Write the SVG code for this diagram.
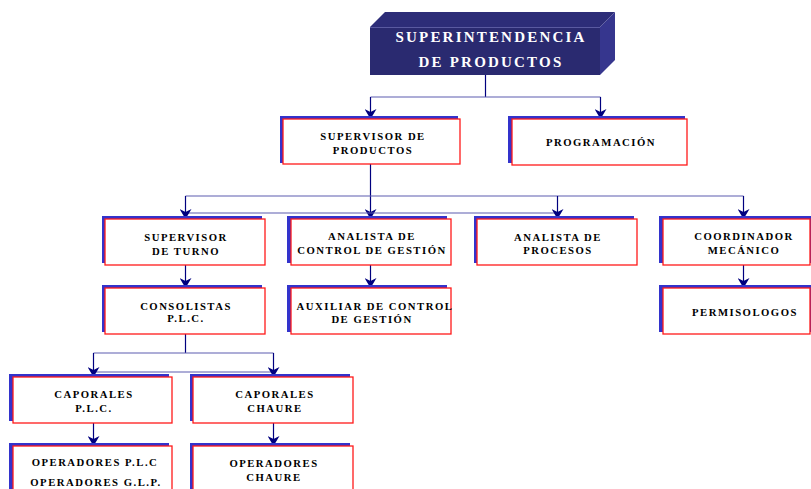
<svg xmlns="http://www.w3.org/2000/svg" width="811" height="489" viewBox="0 0 811 489">
<style>
.sh{fill:#3333cc}
.bx{fill:#fff;stroke:#ff1a1a;stroke-width:1.3}
.t{font-family:"Liberation Serif","Times New Roman",serif;font-weight:bold;font-size:10.7px;letter-spacing:1.5px;fill:#000;text-anchor:middle}
.tt{font-family:"Liberation Serif","Times New Roman",serif;font-weight:bold;font-size:15px;letter-spacing:2.2px;fill:#ffffff;text-anchor:middle}
.v{stroke:#00007f;stroke-width:1.2;fill:none}
.h{stroke:#5c5cb0;stroke-width:1.2;fill:none}
</style>
<defs>
<marker id="ar" markerUnits="userSpaceOnUse" markerWidth="10" markerHeight="12" refX="9" refY="6" orient="auto">
<path d="M0,0 L10,6 L0,12 L3,6 z" fill="#00007f"/>
</marker>
</defs>

<g id="connectors">
<path class="v" d="M485.5,75 V97"/>
<path class="h" d="M370.5,97 H600.5"/>
<path class="v" d="M370.5,97 V118" marker-end="url(#ar)"/>
<path class="v" d="M600.5,97 V118" marker-end="url(#ar)"/>

<path class="v" d="M370.5,164 V218" marker-end="url(#ar)"/>
<path class="h" d="M185.5,196 H743.5"/>
<path class="h" d="M185.5,213 H557.5"/>
<path class="v" d="M185.5,196 V218" marker-end="url(#ar)"/>
<path class="v" d="M557.5,196 V218" marker-end="url(#ar)"/>
<path class="v" d="M743.5,196 V218" marker-end="url(#ar)"/>

<path class="v" d="M185.5,265 V287" marker-end="url(#ar)"/>
<path class="v" d="M370.5,265 V287" marker-end="url(#ar)"/>
<path class="v" d="M743.5,265 V287" marker-end="url(#ar)"/>

<path class="v" d="M185.5,334 V353"/>
<path class="h" d="M93.5,353 H273.5"/>
<path class="h" d="M93.5,372 H273.5"/>
<path class="v" d="M93.5,353 V376" marker-end="url(#ar)"/>
<path class="v" d="M273.5,353 V376" marker-end="url(#ar)"/>

<path class="v" d="M93.5,423 V445" marker-end="url(#ar)"/>
<path class="v" d="M273.5,423 V445" marker-end="url(#ar)"/>
</g>

<g id="superintendencia">
<polygon points="370,27 385,12 615,12 600,27" fill="#2d2d78"/>
<polygon points="600,27 615,12 615,60 600,75" fill="#36368e"/>
<rect x="370" y="27" width="230" height="48" fill="#2a2a70"/>
<line x1="370" y1="27.5" x2="600" y2="27.5" stroke="#5a5aa0" stroke-width="1"/>
<text class="tt" x="491" y="42">SUPERINTENDENCIA</text>
<text class="tt" x="491" y="67">DE PRODUCTOS</text>
</g>

<g id="supervisor-productos">
<rect class="sh" x="280" y="116" width="178" height="47"/>
<rect class="bx" x="283" y="119" width="177" height="45"/>
<text class="t" x="373" y="139.5">SUPERVISOR DE</text>
<text class="t" x="373" y="153.5">PRODUCTOS</text>
</g>

<g id="programacion">
<rect class="sh" x="508" y="116" width="177" height="47"/>
<rect class="bx" x="512" y="119" width="175" height="46"/>
<text class="t" x="601" y="146">PROGRAMACIÓN</text>
</g>

<g id="supervisor-turno">
<rect class="sh" x="102" y="216" width="160" height="47"/>
<rect class="bx" x="105" y="219" width="160" height="46"/>
<text class="t" x="186" y="241">SUPERVISOR</text>
<text class="t" x="186" y="254.5">DE TURNO</text>
</g>

<g id="analista-control">
<rect class="sh" x="287" y="216" width="160" height="47"/>
<rect class="bx" x="291" y="219" width="160" height="46"/>
<text class="t" x="372" y="240">ANALISTA DE</text>
<text class="t" x="372" y="253.5">CONTROL DE GESTIÓN</text>
</g>

<g id="analista-procesos">
<rect class="sh" x="474" y="216" width="160" height="47"/>
<rect class="bx" x="477" y="219" width="160" height="46"/>
<text class="t" x="558" y="241">ANALISTA DE</text>
<text class="t" x="558" y="253.5">PROCESOS</text>
</g>

<g id="coordinador">
<rect class="sh" x="659" y="216" width="160" height="47"/>
<rect class="bx" x="663" y="219" width="147" height="46"/>
<text class="t" x="744" y="239.5">COORDINADOR</text>
<text class="t" x="744" y="253.5">MECÁNICO</text>
</g>

<g id="consolistas">
<rect class="sh" x="102" y="285" width="160" height="47"/>
<rect class="bx" x="105" y="288" width="160" height="46"/>
<text class="t" x="186" y="309.5">CONSOLISTAS</text>
<text class="t" x="186" y="322">P.L.C.</text>
</g>

<g id="auxiliar">
<rect class="sh" x="287" y="285" width="160" height="47"/>
<rect class="bx" x="291" y="288" width="160" height="46"/>
<text class="t" x="375" y="309.5">AUXILIAR DE CONTROL</text>
<text class="t" x="372" y="322.5">DE GESTIÓN</text>
</g>

<g id="permisologos">
<rect class="sh" x="659" y="285" width="160" height="47"/>
<rect class="bx" x="663" y="288" width="147" height="46"/>
<text class="t" x="745" y="316">PERMISOLOGOS</text>
</g>

<g id="caporales-plc">
<rect class="sh" x="9" y="374" width="160" height="47"/>
<rect class="bx" x="13" y="377" width="159" height="46"/>
<text class="t" x="94" y="397.5">CAPORALES</text>
<text class="t" x="94" y="411.5">P.L.C.</text>
</g>

<g id="caporales-chaure">
<rect class="sh" x="190" y="374" width="160" height="47"/>
<rect class="bx" x="193" y="377" width="160" height="46"/>
<text class="t" x="275" y="397.5">CAPORALES</text>
<text class="t" x="275" y="411.5">CHAURE</text>
</g>

<g id="operadores-plc">
<rect class="sh" x="9" y="443" width="160" height="60"/>
<rect class="bx" x="13" y="446" width="159" height="60"/>
<text class="t" x="95" y="466">OPERADORES P.L.C</text>
<text class="t" x="96" y="486">OPERADORES G.L.P.</text>
</g>

<g id="operadores-chaure">
<rect class="sh" x="190" y="443" width="160" height="60"/>
<rect class="bx" x="193" y="446" width="160" height="60"/>
<text class="t" x="274" y="467">OPERADORES</text>
<text class="t" x="274" y="481">CHAURE</text>
</g>
</svg>
